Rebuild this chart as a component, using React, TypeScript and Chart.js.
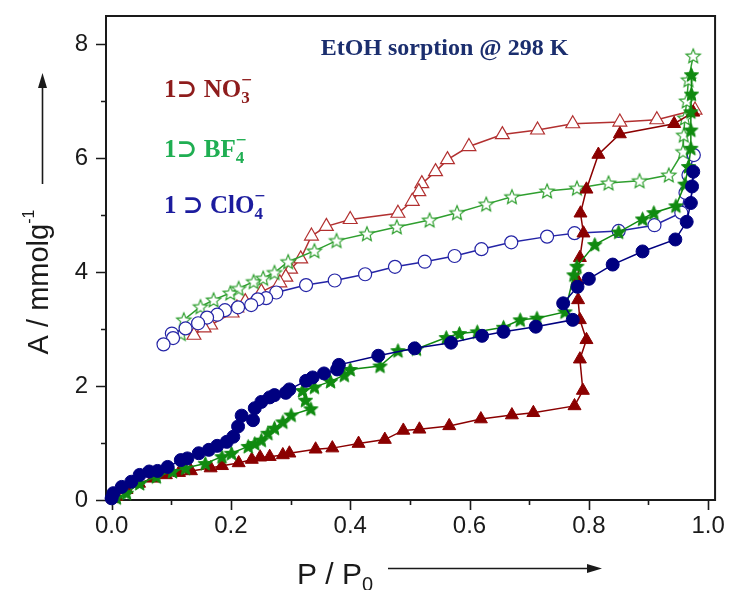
import { useEffect, useRef } from "react";
import { Chart, registerables } from "chart.js";

Chart.register(...registerables);

// ---- tick values ----
const xTickValues = [0, 0.2, 0.4, 0.6, 0.8, 1.0];
const xTickLabels = ["0.0", "0.2", "0.4", "0.6", "0.8", "1.0"];
const yTickValues = [0, 2, 4, 6, 8];
const yTickLabels = ["0", "2", "4", "6", "8"];

// ---- 1⊃NO3- : adsorption (filled) ----
const no3AdsP = [0.003, 0.008, 0.025, 0.046, 0.069, 0.091, 0.113, 0.133, 0.166, 0.185, 0.213, 0.235, 0.249, 0.265, 0.287, 0.298, 0.342, 0.37, 0.414, 0.458, 0.489, 0.516, 0.566, 0.619, 0.671, 0.707, 0.776, 0.79, 0.785, 0.796, 0.785, 0.782, 0.781, 0.785, 0.791, 0.786, 0.796, 0.816, 0.852, 0.943, 0.975];
const no3AdsA = [0.02, 0.06, 0.18, 0.29, 0.38, 0.44, 0.48, 0.51, 0.56, 0.6, 0.65, 0.71, 0.75, 0.76, 0.79, 0.82, 0.89, 0.91, 0.99, 1.06, 1.22, 1.24, 1.3, 1.42, 1.49, 1.53, 1.65, 1.92, 2.47, 2.81, 3.16, 3.51, 3.85, 4.25, 4.68, 5.03, 5.45, 6.06, 6.42, 6.6, 6.8];

// ---- 1⊃NO3- : desorption (open) ----
const no3DesP = [0.978, 0.914, 0.852, 0.773, 0.714, 0.655, 0.599, 0.563, 0.543, 0.52, 0.515, 0.504, 0.48, 0.4, 0.36, 0.335, 0.317, 0.3, 0.292, 0.282, 0.251, 0.224, 0.21, 0.202, 0.166, 0.155, 0.138];
const no3DesA = [6.84, 6.67, 6.63, 6.6, 6.49, 6.41, 6.2, 5.97, 5.76, 5.55, 5.41, 5.24, 5.03, 4.92, 4.8, 4.63, 4.23, 4.05, 3.91, 3.81, 3.65, 3.48, 3.37, 3.28, 3.07, 3.02, 2.89];

// ---- 1⊃BF4- : adsorption (filled) ----
const bf4AdsP = [0.008, 0.025, 0.047, 0.075, 0.102, 0.124, 0.157, 0.185, 0.201, 0.229, 0.24, 0.251, 0.262, 0.273, 0.287, 0.301, 0.334, 0.325, 0.32, 0.34, 0.367, 0.39, 0.4, 0.45, 0.48, 0.511, 0.561, 0.583, 0.613, 0.657, 0.685, 0.713, 0.76, 0.775, 0.78, 0.81, 0.85, 0.89, 0.909, 0.946, 0.961, 0.967, 0.971, 0.971, 0.971, 0.972, 0.972];
const bf4AdsA = [0.04, 0.12, 0.29, 0.41, 0.5, 0.56, 0.64, 0.76, 0.82, 0.94, 0.99, 1.05, 1.17, 1.26, 1.37, 1.49, 1.6, 1.75, 1.92, 1.98, 2.08, 2.19, 2.29, 2.35, 2.62, 2.65, 2.85, 2.92, 2.95, 3.03, 3.16, 3.19, 3.3, 3.95, 4.1, 4.48, 4.7, 4.93, 5.04, 5.16, 5.54, 5.85, 6.17, 6.49, 6.81, 7.12, 7.46];

// ---- 1⊃BF4- : desorption (open) ----
const bf4DesP = [0.975, 0.967, 0.964, 0.961, 0.959, 0.958, 0.934, 0.885, 0.833, 0.78, 0.73, 0.671, 0.628, 0.579, 0.533, 0.478, 0.428, 0.377, 0.34, 0.296, 0.273, 0.254, 0.238, 0.213, 0.199, 0.171, 0.149, 0.121, 0.116];
const bf4DesA = [7.79, 7.37, 7.0, 6.7, 6.4, 6.11, 5.7, 5.6, 5.56, 5.47, 5.42, 5.32, 5.19, 5.04, 4.91, 4.79, 4.67, 4.55, 4.37, 4.18, 3.99, 3.89, 3.83, 3.71, 3.63, 3.51, 3.39, 3.16, 2.92];

// ---- 1⊃ClO4- : adsorption (filled) ----
const clo4AdsP = [0.0, 0.003, 0.017, 0.033, 0.047, 0.063, 0.077, 0.094, 0.116, 0.127, 0.146, 0.163, 0.177, 0.193, 0.204, 0.212, 0.218, 0.237, 0.24, 0.251, 0.265, 0.273, 0.292, 0.298, 0.326, 0.337, 0.356, 0.378, 0.381, 0.447, 0.508, 0.569, 0.621, 0.657, 0.711, 0.773, 0.757, 0.781, 0.8, 0.84, 0.89, 0.945, 0.964, 0.971, 0.973, 0.975];
const clo4AdsA = [0.03, 0.12, 0.23, 0.32, 0.44, 0.5, 0.51, 0.58, 0.7, 0.73, 0.82, 0.88, 0.95, 1.02, 1.11, 1.29, 1.48, 1.4, 1.61, 1.72, 1.8, 1.84, 1.88, 1.94, 2.09, 2.15, 2.22, 2.29, 2.37, 2.53, 2.66, 2.76, 2.88, 2.95, 3.04, 3.16, 3.45, 3.74, 3.88, 4.13, 4.36, 4.57, 4.88, 5.21, 5.5, 5.76];

// ---- 1⊃ClO4- : desorption (open) ----
const clo4DesP = [0.976, 0.967, 0.962, 0.955, 0.91, 0.85, 0.776, 0.73, 0.67, 0.62, 0.575, 0.525, 0.475, 0.425, 0.374, 0.326, 0.276, 0.259, 0.245, 0.234, 0.212, 0.19, 0.177, 0.16, 0.145, 0.124, 0.101, 0.103, 0.087];
const clo4DesA = [6.05, 5.7, 5.39, 5.04, 4.82, 4.72, 4.68, 4.62, 4.52, 4.4, 4.28, 4.18, 4.09, 3.96, 3.85, 3.77, 3.64, 3.54, 3.52, 3.42, 3.38, 3.33, 3.25, 3.2, 3.1, 3.01, 2.92, 2.84, 2.73];

// ---- colours ----
const NO3_DARK = "#8b0000";
const NO3_OPEN = "#b23030";
const BF4_DARK = "#108a10";
const BF4_OPEN = "#2f9f2f";
const CLO4_DARK = "#000080";
const CLO4_OPEN = "#2424a6";
const AXIS = "#1a1a1a";

const pts = (xs: number[], ys: number[]) => xs.map((x, i) => ({ x, y: ys[i] }));

function makeStar(fill: string, stroke: string, outer: number, lw: number) {
  const size = Math.ceil(outer * 2 + lw * 2 + 2);
  const c = document.createElement("canvas");
  c.width = size;
  c.height = size;
  const g = c.getContext("2d")!;
  const cx = size / 2;
  const cy = size / 2 + outer * 0.08;
  const inner = outer * 0.45;
  g.beginPath();
  for (let i = 0; i < 10; i++) {
    const r = i % 2 === 0 ? outer : inner;
    const ang = -Math.PI / 2 + (i * Math.PI) / 5;
    const px = cx + r * Math.cos(ang);
    const py = cy + r * Math.sin(ang);
    if (i === 0) g.moveTo(px, py);
    else g.lineTo(px, py);
  }
  g.closePath();
  g.fillStyle = fill;
  g.fill();
  g.lineWidth = lw;
  g.strokeStyle = stroke;
  g.lineJoin = "miter";
  g.stroke();
  return c;
}

type Part = { t: string; size: number; dy: number; stack?: boolean };

// draws a run of text pieces (normal / sub / superscript) starting at x
function drawRich(
  ctx: CanvasRenderingContext2D,
  x: number,
  y: number,
  parts: Part[],
  family: string,
  weight: string,
  align: "left" | "center"
) {
  let total = 0;
  let prevW = 0;
  parts.forEach((p) => {
    ctx.font = `${weight} ${p.size}px ${family}`;
    const w = ctx.measureText(p.t).width;
    total += p.stack ? Math.max(0, w - prevW) : w;
    prevW = w;
  });
  let cx = align === "center" ? x - total / 2 : x;
  let lastStart = cx;
  let lastW = 0;
  ctx.textBaseline = "alphabetic";
  ctx.textAlign = "left";
  parts.forEach((p) => {
    ctx.font = `${weight} ${p.size}px ${family}`;
    const w = ctx.measureText(p.t).width;
    if (p.stack) {
      ctx.fillText(p.t, lastStart, y + p.dy);
      cx = lastStart + Math.max(w, lastW);
    } else {
      ctx.fillText(p.t, cx, y + p.dy);
      lastStart = cx;
      lastW = w;
      cx += w;
    }
  });
}

const SANS = "'Liberation Sans', Arial, sans-serif";
const SERIF = "'Liberation Serif', 'Times New Roman', 'DejaVu Serif', serif";

const decorPlugin = {
  id: "decor",
  beforeDatasetsDraw(chart: any) {
    const { ctx, chartArea: a, scales } = chart;
    const x = scales.x;
    const y = scales.y;
    ctx.save();
    ctx.strokeStyle = AXIS;
    ctx.lineWidth = 2;
    ctx.strokeRect(a.left, a.top, a.right - a.left, a.bottom - a.top);
    ctx.lineWidth = 1.6;
    ctx.beginPath();
    for (let i = 0; i <= 10; i++) {
      const px = Math.round(x.getPixelForValue(i / 10)) + 0.5;
      const len = i % 2 === 0 ? 10 : 5;
      ctx.moveTo(px, a.bottom);
      ctx.lineTo(px, a.bottom + len);
    }
    for (let i = 0; i <= 8; i++) {
      const py = Math.round(y.getPixelForValue(i)) + 0.5;
      const len = i % 2 === 0 ? 10 : 5;
      ctx.moveTo(a.left, py);
      ctx.lineTo(a.left - len, py);
    }
    ctx.stroke();
    ctx.restore();
  },
  afterDraw(chart: any) {
    const { ctx, scales } = chart;
    const x = scales.x;
    const y = scales.y;
    ctx.save();

    // heading
    ctx.fillStyle = "#1b2e6e";
    drawRich(ctx, x.getPixelForValue(0.558), y.getPixelForValue(7.8), [{ t: "EtOH sorption @ 298 K", size: 24, dy: 0 }], SERIF, "bold", "center");

    // series labels
    const lx = x.getPixelForValue(0.088);
    ctx.fillStyle = "#8e1c1c";
    drawRich(ctx, lx, y.getPixelForValue(7.07), [
      { t: "1\u2283 NO", size: 25, dy: 0 },
      { t: "3", size: 17, dy: 6 },
      { t: "\u2212", size: 19, dy: -11, stack: true },
    ], SERIF, "bold", "left");
    ctx.fillStyle = "#1fae52";
    drawRich(ctx, lx, y.getPixelForValue(6.01), [
      { t: "1\u2283 BF", size: 25, dy: 0 },
      { t: "4", size: 17, dy: 6 },
      { t: "\u2212", size: 19, dy: -11, stack: true },
    ], SERIF, "bold", "left");
    ctx.fillStyle = "#1c1c9e";
    drawRich(ctx, lx, y.getPixelForValue(5.04), [
      { t: "1 \u2283 ClO", size: 25, dy: 0 },
      { t: "4", size: 17, dy: 6 },
      { t: "\u2212", size: 19, dy: -11, stack: true },
    ], SERIF, "bold", "left");

    // axis titles with arrows
    ctx.fillStyle = AXIS;
    ctx.strokeStyle = AXIS;
    drawRich(ctx, 335, 584, [
      { t: "P / P", size: 30, dy: 0 },
      { t: "0", size: 20, dy: 7 },
    ], SANS, "normal", "center");
    ctx.lineWidth = 1.6;
    ctx.beginPath();
    ctx.moveTo(388, 568.5);
    ctx.lineTo(590, 568.5);
    ctx.stroke();
    ctx.beginPath();
    ctx.moveTo(602, 568.5);
    ctx.lineTo(587, 564);
    ctx.lineTo(587, 573);
    ctx.closePath();
    ctx.fill();

    ctx.save();
    ctx.translate(48, 282);
    ctx.rotate(-Math.PI / 2);
    drawRich(ctx, 0, 0, [
      { t: "A / mmolg", size: 29, dy: 0 },
      { t: "-1", size: 16, dy: -14 },
    ], SANS, "normal", "center");
    ctx.restore();
    ctx.beginPath();
    ctx.moveTo(42.5, 184);
    ctx.lineTo(42.5, 86);
    ctx.stroke();
    ctx.beginPath();
    ctx.moveTo(42.5, 73);
    ctx.lineTo(38, 88);
    ctx.lineTo(47, 88);
    ctx.closePath();
    ctx.fill();

    ctx.restore();
  },
};

export default function App() {
  const ref = useRef<HTMLCanvasElement | null>(null);

  useEffect(() => {
    if (!ref.current) return;
    const starFilled = makeStar(BF4_DARK, BF4_DARK, 7.5, 1);
    const starOpen = makeStar("#ffffff", BF4_OPEN, 7.5, 1.2);

    const chart = new Chart(ref.current, {
      type: "scatter",
      data: {
        datasets: [
          {
            label: "1⊃NO3- desorption",
            data: pts(no3DesP, no3DesA),
            showLine: true,
            borderColor: NO3_OPEN,
            borderWidth: 1.5,
            pointStyle: "triangle",
            pointRadius: 8,
            pointBackgroundColor: "#ffffff",
            pointBorderColor: NO3_OPEN,
            pointBorderWidth: 1.2,
            clip: false,
            order: 6,
          },
          {
            label: "1⊃BF4- desorption",
            data: pts(bf4DesP, bf4DesA),
            showLine: true,
            borderColor: BF4_OPEN,
            borderWidth: 1.5,
            pointStyle: starOpen,
            pointRadius: 7,
            clip: false,
            order: 5,
          },
          {
            label: "1⊃ClO4- desorption",
            data: pts(clo4DesP, clo4DesA),
            showLine: true,
            borderColor: CLO4_OPEN,
            borderWidth: 1.5,
            pointStyle: "circle",
            pointRadius: 6.5,
            pointBackgroundColor: "#ffffff",
            pointBorderColor: CLO4_OPEN,
            pointBorderWidth: 1.2,
            clip: false,
            order: 4,
          },
          {
            label: "1⊃NO3- adsorption",
            data: pts(no3AdsP, no3AdsA),
            showLine: true,
            borderColor: NO3_DARK,
            borderWidth: 1.5,
            pointStyle: "triangle",
            pointRadius: 7.5,
            pointBackgroundColor: NO3_DARK,
            pointBorderColor: NO3_DARK,
            pointBorderWidth: 1,
            clip: false,
            order: 3,
          },
          {
            label: "1⊃BF4- adsorption",
            data: pts(bf4AdsP, bf4AdsA),
            showLine: true,
            borderColor: BF4_DARK,
            borderWidth: 1.5,
            pointStyle: starFilled,
            pointRadius: 7,
            clip: false,
            order: 2,
          },
          {
            label: "1⊃ClO4- adsorption",
            data: pts(clo4AdsP, clo4AdsA),
            showLine: true,
            borderColor: CLO4_DARK,
            borderWidth: 1.5,
            pointStyle: "circle",
            pointRadius: 6.5,
            pointBackgroundColor: CLO4_DARK,
            pointBorderColor: CLO4_DARK,
            pointBorderWidth: 1,
            clip: false,
            order: 1,
          },
        ],
      },
      options: {
        animation: false,
        responsive: false,
        events: [],
        layout: { padding: { left: 0, top: 16, right: 15, bottom: 0 } },
        plugins: { legend: { display: false }, tooltip: { enabled: false } },
        scales: {
          x: {
            type: "linear",
            min: -0.0094,
            max: 1.0116,
            afterFit: (s: any) => {
              s.height = 90;
            },
            afterBuildTicks: (s: any) => {
              s.ticks = xTickValues.map((v) => ({ value: v }));
            },
            grid: { display: false, drawTicks: false },
            border: { display: false },
            ticks: {
              callback: (_v: any, i: number) => xTickLabels[i],
              font: { family: SANS, size: 24 },
              color: AXIS,
              padding: 12,
              maxRotation: 0,
              autoSkip: false,
            },
          },
          y: {
            type: "linear",
            min: 0,
            max: 8.49,
            afterFit: (s: any) => {
              s.width = 106;
              s.paddingTop = 0;
              s.paddingBottom = 0;
            },
            afterBuildTicks: (s: any) => {
              s.ticks = yTickValues.map((v) => ({ value: v }));
            },
            grid: { display: false, drawTicks: false },
            border: { display: false },
            ticks: {
              callback: (_v: any, i: number) => yTickLabels[i],
              font: { family: SANS, size: 24 },
              color: AXIS,
              padding: 18,
              autoSkip: false,
            },
          },
        },
      },
      plugins: [decorPlugin],
    });
    return () => chart.destroy();
  }, []);

  return (
    <div style={{ position: "fixed", left: 0, top: 0, width: 737, height: 590, background: "#ffffff" }}>
      <canvas ref={ref} width={737} height={590} />
    </div>
  );
}
